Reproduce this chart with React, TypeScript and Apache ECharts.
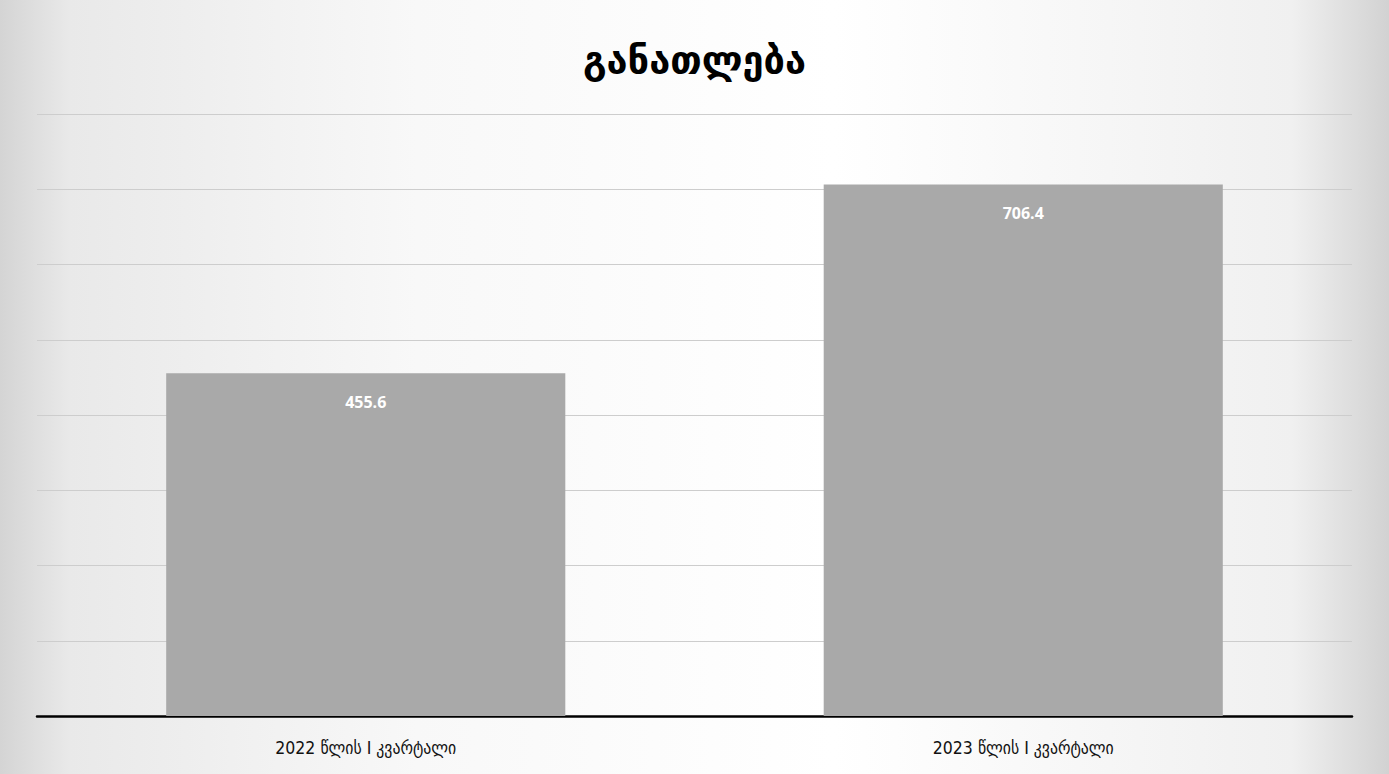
import React, { useEffect, useRef } from "react";
import * as echarts from "echarts";

const title = "განათლება";
const categories = ["2022 წლის I კვარტალი", "2023 წლის I კვარტალი"];
const values = [455.6, 706.4];
const yMin = 0;
const yMax = 800;
const yStep = 100;

export default function App() {
  const ref = useRef<HTMLDivElement>(null);
  useEffect(() => {
    if (!ref.current) return;
    const chart = echarts.init(ref.current, undefined, { renderer: "svg" });
    chart.setOption({
      animation: false,
      backgroundColor: {
        type: "linear",
        x: 0,
        y: 0,
        x2: 1,
        y2: 0,
        colorStops: [
          { offset: 0, color: "#d4d4d4" },
          { offset: 0.05, color: "#e9e9e9" },
          { offset: 0.3, color: "#f8f8f8" },
          { offset: 0.6, color: "#ffffff" },
          { offset: 0.93, color: "#f0f0f0" },
          { offset: 1, color: "#d2d2d2" },
        ],
      },
      title: {
        text: title,
        left: "center",
        top: 36,
        textStyle: {
          fontFamily: "DejaVu Sans",
          fontWeight: "bold",
          fontSize: 38,
          color: "#000000",
        },
      },
      grid: { left: 37, right: 37, top: 114, bottom: 58, containLabel: false },
      xAxis: {
        type: "category",
        data: categories,
        axisLine: { show: true, lineStyle: { color: "#000000", width: 2.5 } },
        axisTick: { show: false },
        axisLabel: {
          margin: 23,
          fontSize: 17.5,
          color: "#111111",
          fontFamily: "Liberation Sans Narrow, DejaVu Sans Condensed, DejaVu Sans",
        },
      },
      yAxis: {
        type: "value",
        min: yMin,
        max: yMax,
        interval: yStep,
        axisLine: { show: false },
        axisTick: { show: false },
        axisLabel: { show: false },
        splitLine: { show: true, lineStyle: { color: "#cdcdcd", width: 1 } },
      },
      series: [
        {
          type: "bar",
          data: values,
          barWidth: "60.7%",
          itemStyle: { color: "#a9a9a9" },
          label: {
            show: true,
            position: "insideTop",
            distance: 21,
            color: "#ffffff",
            fontWeight: "bold",
            fontSize: 16,
            fontFamily: "Open Sans, Lato, sans-serif",
            formatter: (p: any) => p.value.toFixed(1),
          },
        },
      ],
    });
    return () => chart.dispose();
  }, []);
  return (
    <div
      ref={ref}
      style={{ position: "fixed", left: 0, top: 0, width: 1389, height: 774 }}
    />
  );
}
